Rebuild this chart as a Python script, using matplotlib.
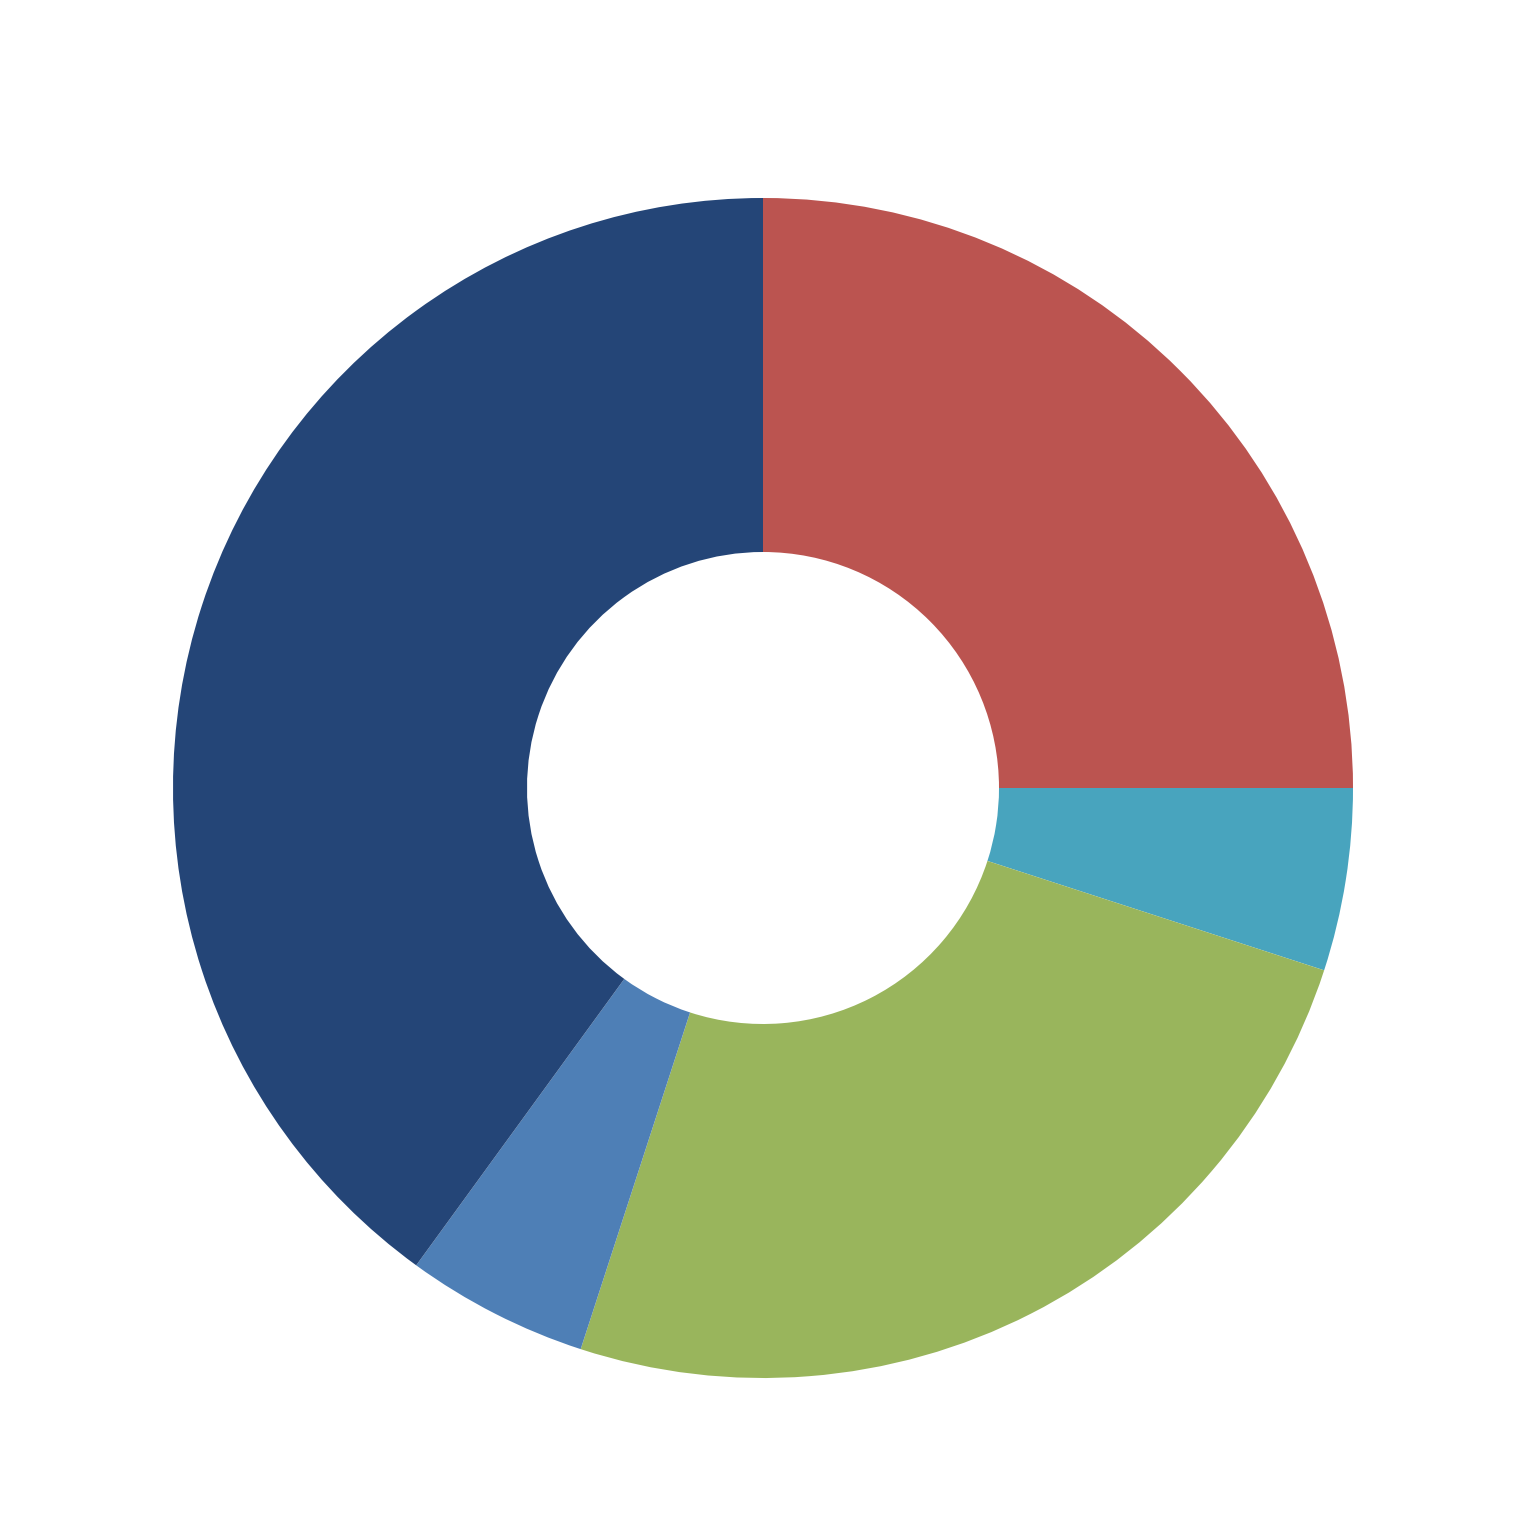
import matplotlib
matplotlib.use("Agg")
import matplotlib.pyplot as plt

labels = ["A", "B", "C", "D", "E"]
values = [25, 5, 25, 5, 40]
colors = ["#BB5450", "#48A4BE", "#99B55C", "#4E7FB6", "#244577"]

fig = plt.figure(figsize=(15.25, 15.25), dpi=100)
# axes sized so that radius 1 spans 590 px around the centre (763, 788)
ax = fig.add_axes([173 / 1525, 147 / 1525, 1180 / 1525, 1180 / 1525])
ax.pie(values, colors=colors, startangle=90, counterclock=False,
       radius=1.0, wedgeprops=dict(width=0.6, linewidth=0))
ax.set_xlim(-1, 1)
ax.set_ylim(-1, 1)
ax.set_aspect("equal")
ax.axis("off")

fig.savefig("out.png", dpi=100)
